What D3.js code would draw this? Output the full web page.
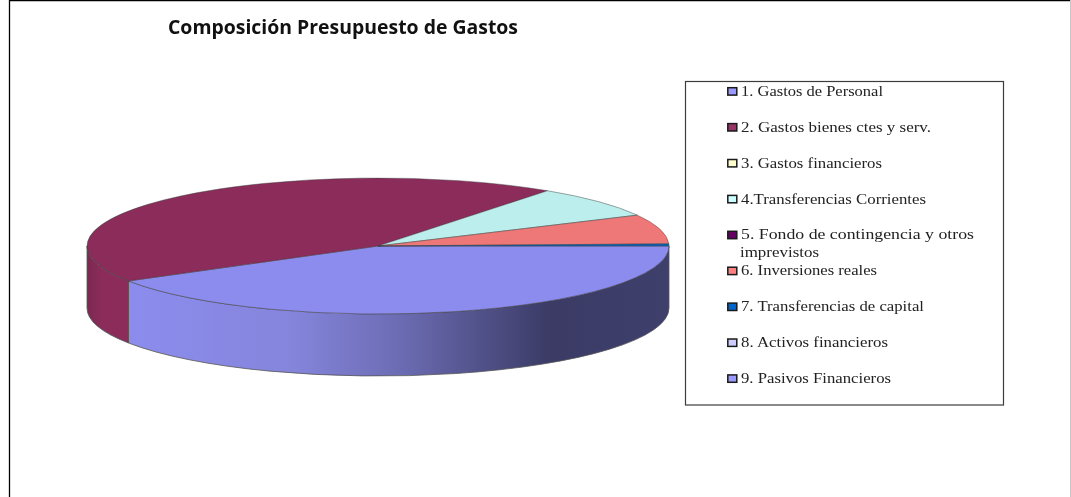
<!DOCTYPE html>
<html>
<head>
    <meta charset="utf-8">
    <title>Composición Presupuesto de Gastos</title>
    <script type="text/javascript" src="https://d3js.org/d3.v7.min.js"></script>
    <style>
        html, body { margin: 0; padding: 0; background: #fff; overflow: hidden; }
        /* the reference is a soft, scaled up picture */
        #svg-1 text { filter: blur(0.35px); }
    </style>
</head>
<body>
    <div id="div-svg"></div>

    <script type="text/javascript">
        // Values (share of the budget, %)
        let categories = ["1. Gastos de Personal", "2. Gastos bienes ctes y serv.", "3. Gastos financieros",
            "4.Transferencias Corrientes", "5. Fondo de contingencia y otros|imprevistos", "6. Inversiones reales",
            "7. Transferencias de capital", "8. Activos financieros", "9. Pasivos Financieros"];
        let values = [41.4, 43.5, 0, 7.6, 0, 7.0, 0.5, 0, 0];
        let sliceColors = ["#8c8cee", "#8b2c5b", "#fdfdc8", "#bbeeec", "#5a0f63", "#ee7777", "#0a63b8", "#c8c8fa", "#9a9af5"];
        let swatchColors = ["#9999ff", "#993366", "#ffffcc", "#ccffff", "#660066", "#ff8080", "#0066cc", "#ccccff", "#9999ff"];
        let title = "Composición Presupuesto de Gastos";

        let width = 1071;
        let height = 497;

        // pie geometry: flat circle squeezed into an ellipse, with a wall below it
        let cx = 378, cy = 246, rx = 291, ry = 68, depth = 62;

        // legend labels are stretched in the reference, so each line gets its measured length
        let legendTextLengths = [[142], [190], [141], [185], [233, 79], [136], [183], [147], [150]];

        let svg = d3.select("#div-svg")
            .append("svg")
            .attr("id", "svg-1")
            .attr("width", width)
            .attr("height", height)
            .style("display", "block");

        // page frame
        svg.append("path")
            .attr("d", "M9.5,497V0.5H1071")
            .attr("fill", "none")
            .attr("stroke", "#000")
            .attr("stroke-width", 1.3);
        svg.append("line")
            .attr("x1", 1070.5).attr("x2", 1070.5)
            .attr("y1", 0).attr("y2", 497)
            .attr("stroke", "#c8c8c8");

        svg.append("text")
            .attr("x", 168)
            .attr("y", 34)
            .attr("font-family", "'Open Sans'")
            .attr("font-weight", "bold")
            .attr("font-size", 18.7)
            .attr("textLength", 350)
            .attr("lengthAdjust", "spacingAndGlyphs")
            .attr("fill", "#111")
            .text(title);

        let pie = d3.pie()
            .sort(null)
            .startAngle(Math.PI / 2)
            .endAngle(Math.PI / 2 + 2 * Math.PI);
        let slices = pie(values);

        // d3 angles start at 12 o'clock, move them to the ellipse parameter
        function px(a) { return cx + rx * Math.cos(a - Math.PI / 2); }
        function py(a) { return cy + ry * Math.sin(a - Math.PI / 2); }

        // gradients for the wall, dark towards the right
        let defs = svg.append("defs");
        let wallStops = {
            0: [[0, "#8c8cee"], [0.3, "#8585dc"], [0.5, "#6c6cb4"], [0.78, "#3b3b66"], [1, "#3f3f6c"]],
            1: [[0, "#7c2850"], [0.35, "#8b2c5b"], [1, "#8b2c5b"]]
        };
        Object.keys(wallStops).forEach(function (k) {
            let g = defs.append("linearGradient").attr("id", "wall-" + k);
            wallStops[k].forEach(function (s) {
                g.append("stop").attr("offset", s[0]).attr("stop-color", s[1]);
            });
        });

        // the wall is only seen for the part of the rim facing us
        let frontStart = Math.PI / 2, frontEnd = 3 * Math.PI / 2;
        let walls = svg.append("g");
        slices.forEach(function (d, i) {
            let a0 = Math.max(d.startAngle, frontStart);
            let a1 = Math.min(d.endAngle, frontEnd);
            if (a1 <= a0) return;
            walls.append("path")
                .attr("d", "M" + px(a0) + "," + py(a0)
                    + "A" + rx + "," + ry + " 0 0 1 " + px(a1) + "," + py(a1)
                    + "V" + (py(a1) + depth)
                    + "A" + rx + "," + ry + " 0 0 0 " + px(a0) + "," + (py(a0) + depth) + "Z")
                .attr("fill", "url(#wall-" + i + ")")
                .attr("stroke", "#555")
                .attr("stroke-width", 0.8)
                .attr("stroke-linejoin", "round");
        });

        // top face
        let arc = d3.arc().innerRadius(0).outerRadius(rx);
        svg.append("g")
            .attr("transform", "translate(" + cx + "," + cy + ") scale(1," + (ry / rx) + ")")
            .selectAll("path")
            .data(slices.filter(function (d) { return d.value > 0; }))
            .enter()
            .append("path")
            .attr("d", arc)
            .attr("fill", function (d) { return sliceColors[d.index]; })
            .attr("stroke", "#3a3a3a")
            .attr("stroke-width", 0.6)
            .attr("stroke-opacity", 0.75)
            .attr("vector-effect", "non-scaling-stroke");

        // legend box
        let legendX = d3.scaleLinear().domain([0, 1]).range([685.5, 1003.5]);
        let legendY = d3.scaleLinear().domain([0, 1]).range([81.5, 405]);
        svg.append("rect")
            .attr("x", legendX(0))
            .attr("y", legendY(0))
            .attr("width", legendX(1) - legendX(0))
            .attr("height", legendY(1) - legendY(0))
            .attr("fill", "#fff")
            .attr("stroke", "#3c3c3c")
            .attr("stroke-width", 1.2);

        // row positions as the chart spaces them
        let rowY = d3.scaleLinear().domain([0, 8]).range([91.3, 378.5]);

        let rows = svg.append("g")
            .selectAll("g")
            .data(categories)
            .enter()
            .append("g")
            .attr("transform", function (d, i) { return "translate(0," + rowY(i) + ")"; });

        rows.append("rect")
            .attr("x", 727.8)
            .attr("y", -3.6)
            .attr("width", 9)
            .attr("height", 7.4)
            .attr("fill", function (d, i) { return swatchColors[i]; })
            .attr("stroke", "#1a1a1a")
            .attr("stroke-width", 1.5);

        rows.each(function (d, i) {
            let lines = d.split("|");
            let row = d3.select(this);
            lines.forEach(function (t, j) {
                row.append("text")
                    .attr("x", j == 0 ? 741 : 740)
                    .attr("y", 4.5 + j * 17.5)
                    .attr("font-family", "'Liberation Serif'")
                    .attr("font-size", 14.5)
                    .attr("textLength", legendTextLengths[i][j])
                    .attr("lengthAdjust", "spacingAndGlyphs")
                    .attr("fill", "#222")
                    .text(t);
            });
        });
    </script>
</body>
</html>
